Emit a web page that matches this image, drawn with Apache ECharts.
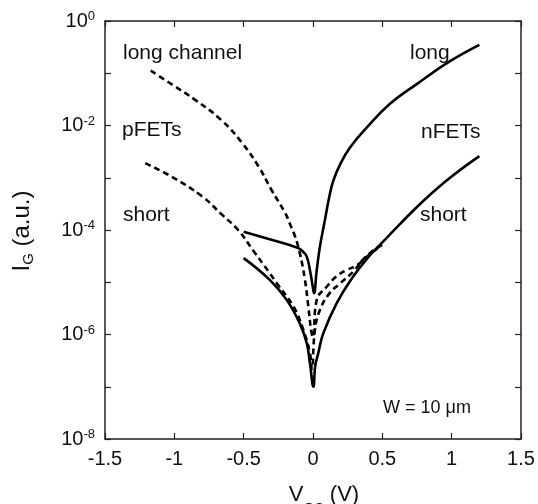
<!DOCTYPE html>
<html>
<head>
<meta charset="utf-8">
<script src="https://cdn.jsdelivr.net/npm/echarts@6/dist/echarts.min.js"></script>
<style>
  html, body { margin: 0; padding: 0; background: #fff; }
  #chart { width: 538px; height: 504px; }
</style>
</head>
<body>
<div id="chart"></div>
<script>
// Gate current I_G (a.u.) versus gate voltage V_GS (V), W = 10 um devices.
// pFETs are drawn dashed, nFETs solid.

const xTicks = [-1.5, -1, -0.5, 0, 0.5, 1, 1.5];

// long-channel pFET
const longPfetV = [-1.17, -1.0, -0.85, -0.66, -0.51, -0.39, -0.30, -0.20, -0.166, -0.13, -0.094, -0.06, -0.034, -0.012, 0.0,
                   0.027, 0.10, 0.17, 0.24, 0.315, 0.39, 0.49];
const longPfetI = [1.12e-1, 5.7e-2, 3.1e-2, 1.26e-2, 4.6e-3, 1.6e-3, 5.9e-4, 2.1e-4, 1.3e-4, 7.6e-5, 3.5e-5, 1.2e-5, 3.5e-6, 1.12e-6, 8.9e-7,
                   4.6e-6, 8.3e-6, 1.3e-5, 1.7e-5, 2.1e-5, 3.1e-5, 5.0e-5];

// short-channel pFET
const shortPfetV = [-1.21, -1.02, -0.80, -0.66, -0.54, -0.43, -0.32, -0.26, -0.14, -0.07, -0.022, -0.008,
                    0.014, 0.05, 0.12, 0.195, 0.29, 0.36, 0.42, 0.50];
const shortPfetI = [1.9e-3, 1.05e-3, 4.4e-4, 2.0e-4, 1.0e-4, 4.0e-5, 1.6e-5, 9.5e-6, 3.4e-6, 1.23e-6, 4.4e-7, 2.2e-7,
                    1.23e-6, 2.95e-6, 6.2e-6, 9.5e-6, 1.6e-5, 2.7e-5, 3.8e-5, 5.2e-5];

// long-channel nFET
const longNfetV = [-0.50, -0.30, -0.106, -0.07, -0.045, -0.022, -0.002, 0.007, 0.027, 0.05, 0.086, 0.115, 0.146, 0.20,
                   0.267, 0.387, 0.555, 0.748, 0.988, 1.2];
const longNfetI = [9.3e-5, 6.5e-5, 4.5e-5, 3.8e-5, 3.1e-5, 1.7e-5, 8.3e-6, 6.2e-6, 1.7e-5, 4.8e-5, 1.55e-4, 4.0e-4, 8.7e-4, 1.9e-3,
                   3.8e-3, 9.1e-3, 2.6e-2, 6.2e-2, 1.7e-1, 3.5e-1];

// short-channel nFET
const shortNfetV = [-0.50, -0.31, -0.19, -0.094, -0.045, -0.022, 0.003, 0.016, 0.038, 0.074, 0.171, 0.291, 0.411,
                    0.483, 0.627, 0.795, 0.988, 1.2];
const shortNfetI = [2.9e-5, 1.1e-5, 4.6e-6, 1.6e-6, 6.8e-7, 2.8e-7, 1.0e-7, 2.5e-7, 4.4e-7, 1.05e-6, 4.0e-6, 1.3e-5, 3.3e-5,
                    5.2e-5, 1.3e-4, 3.6e-4, 1.0e-3, 2.6e-3];

const FONT = "'Liberation Sans', Arial, Helvetica, sans-serif";
const zip = (xs, ys) => xs.map((x, i) => [x, ys[i]]);

const chart = echarts.init(document.getElementById('chart'), null, { renderer: 'canvas' });

const frame = { show: true, onZero: false, lineStyle: { color: '#222', width: 1.5 } };
const ticks = { show: true, inside: true, length: 6, lineStyle: { color: '#222', width: 1.2 } };

function powLabel(v) {
  const e = Math.round(Math.log10(v));
  if (e % 2 !== 0) return '';
  return '{b|10}{s|' + e + '}';
}

function lineSeries(name, data, dashed) {
  return {
    name: name,
    type: 'line',
    data: data,
    showSymbol: false,
    smooth: 0.45,
    clip: true,
    lineStyle: { color: '#000', width: 2.6, type: dashed ? [6, 4] : 'solid' },
    emphasis: { disabled: true }
  };
}

const annotation = (text, x, y, size) => ({
  type: 'text', x: x, y: y,
  style: { text: text, fill: '#111', font: (size || 21) + 'px ' + FONT, align: 'left', verticalAlign: 'middle' }
});

chart.setOption({
  animation: false,
  backgroundColor: '#fff',
  grid: { left: 105, right: 17, top: 21, bottom: 65 },
  xAxis: [
    {
      type: 'value', min: -1.5, max: 1.5, interval: 0.5, position: 'bottom',
      axisLine: frame, axisTick: ticks, splitLine: { show: false },
      axisLabel: {
        color: '#111', fontFamily: FONT, fontSize: 20, margin: 10,
        formatter: v => (xTicks.indexOf(v) >= 0 ? String(v) : '')
      }
    },
    {
      type: 'value', min: -1.5, max: 1.5, interval: 0.5, position: 'top',
      axisLine: frame, axisTick: ticks, splitLine: { show: false }, axisLabel: { show: false }
    }
  ],
  yAxis: [
    {
      type: 'log', logBase: 10, min: 1e-8, max: 1, position: 'left',
      axisLine: frame, axisTick: ticks, splitLine: { show: false }, minorTick: { show: false },
      axisLabel: {
        margin: 10, formatter: powLabel,
        rich: {
          b: { fontFamily: FONT, fontSize: 20, color: '#111', lineHeight: 22 },
          s: { fontFamily: FONT, fontSize: 13, color: '#111', lineHeight: 13, verticalAlign: 'top' }
        }
      }
    },
    {
      type: 'log', logBase: 10, min: 1e-8, max: 1, position: 'right',
      axisLine: frame, axisTick: ticks, splitLine: { show: false }, axisLabel: { show: false }
    }
  ],
  series: [
    lineSeries('long-channel pFET', zip(longPfetV, longPfetI), true),
    lineSeries('short-channel pFET', zip(shortPfetV, shortPfetI), true),
    lineSeries('long-channel nFET', zip(longNfetV, longNfetI), false),
    lineSeries('short-channel nFET', zip(shortNfetV, shortNfetI), false)
  ],
  graphic: [
    annotation('long channel', 123, 53),
    annotation('pFETs', 122, 130),
    annotation('short', 123, 215),
    annotation('long', 410, 53),
    annotation('nFETs', 421, 132),
    annotation('short', 420, 215),
    annotation('W = 10 \u03bcm', 383, 408, 18),
    {
      type: 'text', x: 22, y: 231, rotation: Math.PI / 2,
      style: {
        text: '{m|I}{s|G}{m| (a.u.)}', align: 'center', verticalAlign: 'middle',
        rich: {
          m: { fontFamily: FONT, fontSize: 24, fill: '#111', lineHeight: 28 },
          s: { fontFamily: FONT, fontSize: 15, fill: '#111', lineHeight: 15, verticalAlign: 'bottom' }
        }
      }
    },
    {
      type: 'text', x: 324, y: 495,
      style: {
        text: '{m|V}{s|GS}{m| (V)}', align: 'center', verticalAlign: 'middle',
        rich: {
          m: { fontFamily: FONT, fontSize: 22, fill: '#111', lineHeight: 26 },
          s: { fontFamily: FONT, fontSize: 14, fill: '#111', lineHeight: 14, verticalAlign: 'bottom', padding: [0, 0, -8, 0] }
        }
      }
    }
  ]
});
</script>
</body>
</html>
